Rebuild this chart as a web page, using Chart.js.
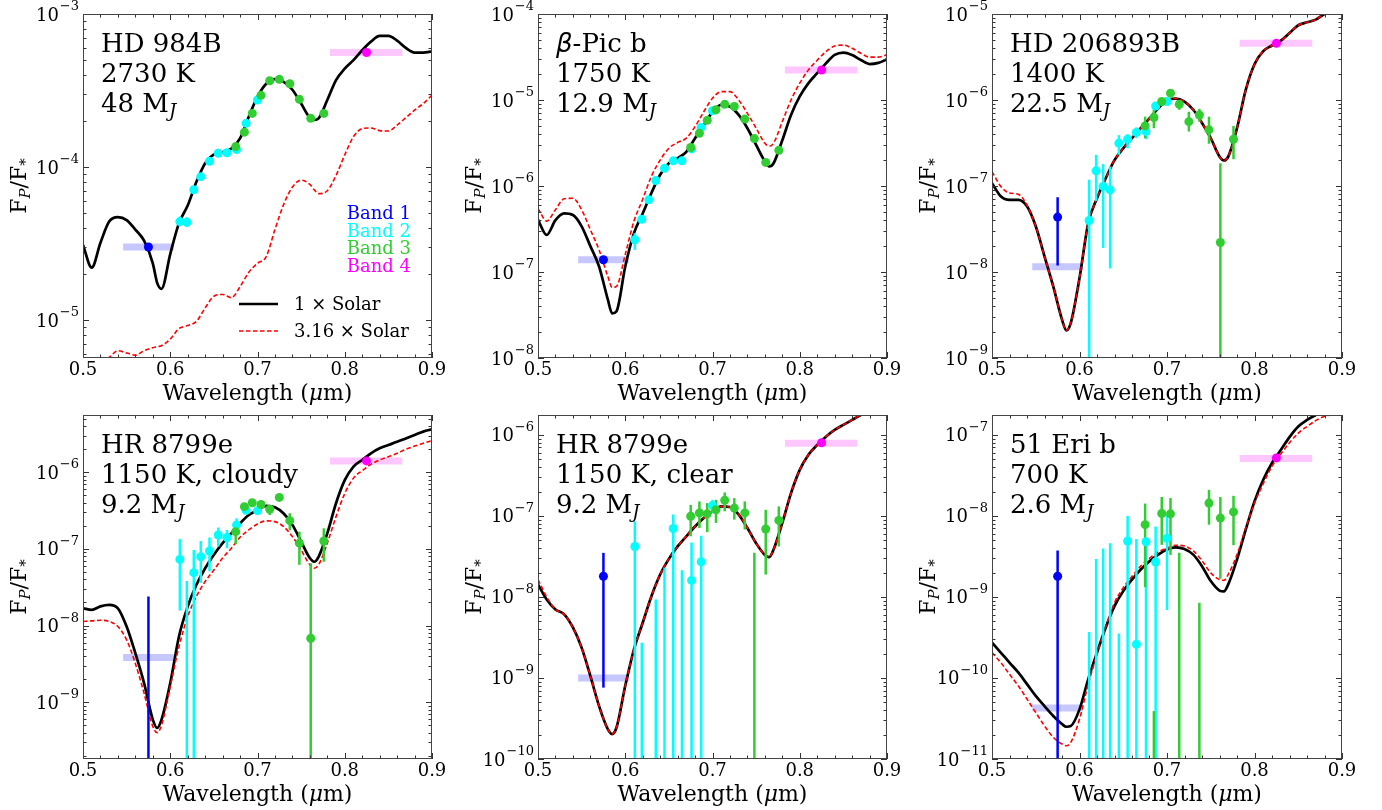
<!DOCTYPE html>
<html>
<head>
<meta charset="utf-8">
<title>Planet/star flux ratio models</title>
<script src="https://cdn.jsdelivr.net/npm/chart.js@4.4.1/dist/chart.umd.min.js"></script>
<style>
  body { margin: 0; background: #fff; }
  #figure { position: relative; width: 1382px; height: 810px; overflow: hidden; background: #fff; }
  #figure canvas { position: absolute; }
</style>
</head>
<body>
<div id="figure"></div>
<script>
// wavelength grid (um) of the model spectra
const modelWl = [0.50, 0.51, 0.52, 0.53, 0.54, 0.55, 0.56, 0.57, 0.58, 0.585, 0.59, 0.60, 0.61, 0.62, 0.63,
  0.64, 0.65, 0.66, 0.67, 0.68, 0.69, 0.70, 0.71, 0.72, 0.73, 0.74, 0.75, 0.76, 0.765, 0.77, 0.78, 0.79,
  0.80, 0.81, 0.82, 0.83, 0.84, 0.85, 0.86, 0.87, 0.88, 0.89, 0.90];

// filter bands
const band1Wl = 0.575;
const band4Wl = 0.825;
const band1Range = [0.546, 0.604];
const band4Range = [0.783, 0.866];
const band2Wl = [0.611, 0.619, 0.627, 0.635, 0.645, 0.655, 0.665, 0.676, 0.687, 0.700];
const band3Wl = [0.675, 0.685, 0.694, 0.704, 0.714, 0.725, 0.737, 0.748, 0.761, 0.776];

// HD 984B
const hd984Solar = [3.1e-5, 2.2e-5, 3.2e-5, 4.4e-5, 4.7e-5, 4.5e-5, 3.9e-5, 3.3e-5, 2.35e-5, 1.75e-5, 1.6e-5,
  2.7e-5, 4.3e-5, 5.6e-5, 8.0e-5, 1.06e-4, 1.21e-4, 1.25e-4, 1.32e-4, 1.54e-4, 2.13e-4, 2.88e-4, 3.5e-4,
  3.75e-4, 3.6e-4, 3.2e-4, 2.6e-4, 2.1e-4, 2.03e-4, 2.08e-4, 2.74e-4, 3.7e-4, 4.4e-4, 5.0e-4, 5.8e-4,
  6.6e-4, 7.2e-4, 7.2e-4, 6.7e-4, 6.0e-4, 5.6e-4, 5.6e-4, 5.7e-4];
const hd984Metal = [4.6e-6, 4.9e-6, 5.2e-6, 5.7e-6, 6.3e-6, 6.1e-6, 5.9e-6, 6.3e-6, 6.6e-6, 6.7e-6, 6.8e-6,
  7.5e-6, 8.8e-6, 9.2e-6, 9.8e-6, 1.2e-5, 1.43e-5, 1.47e-5, 1.4e-5, 1.65e-5, 2.05e-5, 2.35e-5, 2.6e-5,
  3.9e-5, 5.7e-5, 7.4e-5, 8.2e-5, 7.7e-5, 7.1e-5, 6.7e-5, 7.0e-5, 8.8e-5, 1.2e-4, 1.58e-4, 1.78e-4,
  1.8e-4, 1.73e-4, 1.72e-4, 1.88e-4, 2.1e-4, 2.35e-4, 2.6e-4, 2.95e-4];
const hd984Band1 = [3.0e-5, null, null];
const hd984Band2 = [4.4e-5, 4.35e-5, 7.1e-5, 8.65e-5, 1.09e-4, 1.23e-4, 1.24e-4, 1.3e-4, 1.93e-4, 2.74e-4];
const hd984Band2Lo = [4.1e-5, 4.05e-5, null, null, null, null, null, null, null, null];
const hd984Band2Hi = [4.75e-5, 4.7e-5, null, null, null, null, null, null, null, null];
const hd984Band3 = [1.36e-4, 1.69e-4, 2.24e-4, 2.94e-4, 3.66e-4, 3.74e-4, 3.5e-4, 2.77e-4, 2.08e-4, 2.24e-4];
const hd984Band4 = 5.6e-4;
const hd984Levels = [3.0e-5, 5.6e-4];

// beta Pic b
const betaPicSolar = [4.05e-7, 2.7e-7, 4.0e-7, 4.8e-7, 4.6e-7, 3.4e-7, 2.0e-7, 1.16e-7, 4.8e-8, 3.3e-8, 3.5e-8,
  1.16e-7, 2.83e-7, 4.8e-7, 8.3e-7, 1.35e-6, 1.84e-6, 2.1e-6, 2.5e-6, 3.6e-6, 5.1e-6, 7.3e-6, 8.8e-6,
  8.4e-6, 6.7e-6, 4.7e-6, 3.0e-6, 1.93e-6, 1.69e-6, 1.84e-6, 3.4e-6, 6.7e-6, 1.1e-5, 1.57e-5, 2.05e-5,
  2.67e-5, 3.34e-5, 3.56e-5, 3.34e-5, 2.92e-5, 2.62e-5, 2.7e-5, 2.97e-5];
const betaPicMetal = [5.5e-7, 3.9e-7, 5.3e-7, 7.1e-7, 7.2e-7, 5.3e-7, 3.1e-7, 1.81e-7, 8.9e-8, 6.6e-8, 6.8e-8,
  1.6e-7, 3.9e-7, 7.0e-7, 1.3e-6, 2.0e-6, 2.75e-6, 3.2e-6, 3.6e-6, 4.9e-6, 7.3e-6, 1.05e-5, 1.25e-5,
  1.25e-5, 1.0e-5, 7.0e-6, 4.7e-6, 3.15e-6, 2.9e-6, 3.15e-6, 5.6e-6, 1.0e-5, 1.57e-5, 2.24e-5, 2.9e-5,
  3.65e-5, 4.25e-5, 4.35e-5, 4.0e-5, 3.5e-5, 3.15e-5, 3.15e-5, 3.35e-5];
const betaPicBand1 = [1.39e-7, null, null];
const betaPicBand2 = [2.37e-7, 4.1e-7, 6.9e-7, 1.16e-6, 1.61e-6, 1.96e-6, 1.96e-6, 2.7e-6, 4.8e-6, 7.5e-6];
const betaPicBand2Lo = [1.81e-7, 3.7e-7, null, null, null, null, null, null, null, null];
const betaPicBand2Hi = [2.83e-7, 4.6e-7, null, null, null, null, null, null, null, null];
const betaPicBand3 = [2.8e-6, 4.1e-6, 5.8e-6, 7.7e-6, 8.9e-6, 8.4e-6, 6.0e-6, 3.56e-6, 1.88e-6, 2.6e-6];
const betaPicBand4 = 2.23e-5;
const betaPicLevels = [1.39e-7, 2.23e-5];

// HD 206893B
const hd206Solar = [1.08e-7, 7.6e-8, 6.9e-8, 6.9e-8, 5.8e-8, 3.4e-8, 1.52e-8, 6.8e-9, 2.8e-9, 2.1e-9, 2.55e-9,
  8.5e-9, 3.7e-8, 7.2e-8, 1.23e-7, 2.0e-7, 2.75e-7, 3.6e-7, 4.7e-7, 6.1e-7, 8.0e-7, 1.0e-6, 1.04e-6,
  9.6e-7, 7.7e-7, 5.4e-7, 3.6e-7, 2.2e-7, 1.98e-7, 2.2e-7, 4.7e-7, 1.31e-6, 2.6e-6, 3.7e-6, 4.3e-6,
  4.9e-6, 6.0e-6, 7.4e-6, 8.0e-6, 8.6e-6, 1.0e-5, 1.1e-5, 1.2e-5];
const hd206Metal = [1.47e-7, 9.9e-8, 8.3e-8, 8.0e-8, 6.0e-8, 3.4e-8, 1.52e-8, 6.8e-9, 2.8e-9, 2.1e-9, 2.55e-9,
  8.5e-9, 3.7e-8, 7.2e-8, 1.23e-7, 2.0e-7, 2.75e-7, 3.6e-7, 4.7e-7, 6.1e-7, 8.0e-7, 1.0e-6, 1.04e-6,
  9.6e-7, 7.7e-7, 5.4e-7, 3.6e-7, 2.2e-7, 1.98e-7, 2.2e-7, 4.7e-7, 1.31e-6, 2.6e-6, 3.7e-6, 4.3e-6,
  4.9e-6, 6.0e-6, 7.4e-6, 8.0e-6, 8.6e-6, 1.0e-5, 1.1e-5, 1.2e-5];
const hd206Band1 = [4.35e-8, 1.19e-8, 7.4e-8];
const hd206Band2 = [3.97e-8, 1.5e-7, 9.9e-8, 9.0e-8, 3.15e-7, 3.5e-7, 4.2e-7, 4.3e-7, 8.5e-7, 9.6e-7];
const hd206Band2Lo = [1e-13, 6.7e-8, 1.9e-8, 1.1e-8, 2.3e-7, 2.75e-7, 3.6e-7, 3.5e-7, 7.6e-7, 8.8e-7];
const hd206Band2Hi = [1.18e-7, 2.3e-7, 1.8e-7, 1.68e-7, 3.9e-7, 4.0e-7, 4.8e-7, 5.2e-7, 9.4e-7, 1.05e-6];
const hd206Band3 = [5.0e-7, 6.25e-7, 9.6e-7, 1.2e-6, 8.9e-7, 5.6e-7, 6.7e-7, 4.5e-7, 2.2e-8, 3.5e-7];
const hd206Band3Lo = [3.6e-7, 4.7e-7, 8.8e-7, 1.1e-6, 7.7e-7, 4.3e-7, 5.6e-7, 3.1e-7, 1e-13, 2.05e-7];
const hd206Band3Hi = [6.4e-7, 7.7e-7, 1.05e-6, 1.32e-6, 1.0e-6, 7.3e-7, 7.9e-7, 6.4e-7, 1.84e-7, 5.0e-7];
const hd206Band4 = 4.56e-6;
const hd206Levels = [1.15e-8, 4.56e-6];

// HR 8799e, cloudy
const hr8799CloudySolar = [1.68e-8, 1.6e-8, 1.78e-8, 1.86e-8, 1.68e-8, 9.7e-9, 4.35e-9, 1.77e-9, 5.9e-10,
  4.6e-10, 5.9e-10, 1.77e-9, 7.2e-9, 1.77e-8, 3.4e-8, 5.6e-8, 8.4e-8, 1.19e-7, 1.6e-7, 2.16e-7, 2.77e-7,
  3.2e-7, 3.65e-7, 3.5e-7, 2.9e-7, 2.06e-7, 1.25e-7, 7.6e-8, 6.8e-8, 7.9e-8, 1.6e-7, 3.95e-7, 7.9e-7,
  1.19e-6, 1.45e-6, 1.77e-6, 2.06e-6, 2.27e-6, 2.5e-6, 2.77e-6, 3.07e-6, 3.4e-6, 3.64e-6];
const hr8799CloudyMetal = [1.13e-8, 1.15e-8, 1.17e-8, 1.13e-8, 9.7e-9, 6.5e-9, 3.2e-9, 1.31e-9, 4.8e-10,
  4.0e-10, 5.0e-10, 1.6e-9, 5.3e-9, 1.31e-8, 2.4e-8, 3.75e-8, 5.3e-8, 7.6e-8, 1.02e-7, 1.42e-7, 1.77e-7,
  2.12e-7, 2.32e-7, 2.27e-7, 1.95e-7, 1.45e-7, 9.7e-8, 6.2e-8, 5.6e-8, 6.2e-8, 1.19e-7, 2.64e-7, 5.3e-7,
  8.4e-7, 1.05e-6, 1.27e-6, 1.45e-6, 1.6e-6, 1.77e-6, 2.0e-6, 2.2e-6, 2.39e-6, 2.59e-6];
const hr8799CloudyBand1 = [5e-11, 1e-13, 2.39e-8];
const hr8799CloudyBand2 = [7.3e-8, 5e-11, 4.9e-8, 7.9e-8, 9.4e-8, 1.52e-7, 1.41e-7, 2.06e-7, 3.2e-7, 3.16e-7];
const hr8799CloudyBand2Lo = [1.57e-8, 1e-13, 1e-13, 3.6e-8, 5.1e-8, 1.07e-7, 1.02e-7, 1.52e-7, 2.9e-7, 2.9e-7];
const hr8799CloudyBand2Hi = [1.34e-7, 3.8e-8, 9.7e-8, 1.27e-7, 1.41e-7, 1.9e-7, 1.77e-7, 2.51e-7, 3.5e-7, 3.45e-7];
const hr8799CloudyBand3 = [1.68e-7, 3.56e-7, 4.0e-7, 3.8e-7, 3.3e-7, 4.7e-7, 2.34e-7, 1.19e-7, 6.8e-9, 1.27e-7];
const hr8799CloudyBand3Lo = [1.15e-7, 3.2e-7, 3.6e-7, 3.4e-7, 2.77e-7, 4.3e-7, 1.77e-7, 6.2e-8, 1e-13, 6.8e-8];
const hr8799CloudyBand3Hi = [2.27e-7, 3.9e-7, 4.4e-7, 4.2e-7, 3.75e-7, 5.1e-7, 2.92e-7, 1.68e-7, 6.5e-8, 1.86e-7];
const hr8799CloudyBand4 = 1.41e-6;
const hr8799CloudyLevels = [3.83e-9, 1.41e-6];

// HR 8799e, clear
const hr8799ClearSolar = [1.43e-8, 9.3e-9, 7.0e-9, 6.1e-9, 4.2e-9, 2.37e-9, 1.06e-9, 4.5e-10, 2.34e-10,
  2.03e-10, 2.45e-10, 8.0e-10, 2.26e-9, 4.8e-9, 1.02e-8, 1.89e-8, 2.95e-8, 4.2e-8, 5.6e-8, 7.4e-8, 9.4e-8,
  1.14e-7, 1.31e-7, 1.29e-7, 1.04e-7, 7.1e-8, 4.6e-8, 3.3e-8, 3.1e-8, 3.85e-8, 8.2e-8, 1.91e-7, 3.7e-7,
  5.7e-7, 7.5e-7, 9.5e-7, 1.15e-6, 1.33e-6, 1.53e-6, 1.76e-6, 2.0e-6, 2.2e-6, 2.4e-6];
const hr8799ClearMetal = [1.64e-8, 1.0e-8, 7.0e-9, 6.1e-9, 4.2e-9, 2.37e-9, 1.06e-9, 4.5e-10, 2.34e-10,
  2.03e-10, 2.45e-10, 8.0e-10, 2.26e-9, 4.8e-9, 1.02e-8, 1.89e-8, 2.95e-8, 4.2e-8, 5.6e-8, 7.4e-8, 9.4e-8,
  1.14e-7, 1.31e-7, 1.29e-7, 1.04e-7, 7.1e-8, 4.6e-8, 3.3e-8, 3.1e-8, 3.85e-8, 8.2e-8, 1.91e-7, 3.7e-7,
  5.7e-7, 7.5e-7, 9.5e-7, 1.15e-6, 1.33e-6, 1.53e-6, 1.76e-6, 2.0e-6, 2.2e-6, 2.4e-6];
const hr8799ClearBand1 = [1.8e-8, 7.6e-10, 3.5e-8];
const hr8799ClearBand2 = [4.2e-8, 1e-11, null, 1e-11, 1e-11, 7.0e-8, 1e-11, 1.6e-8, 2.71e-8, 1.34e-7];
const hr8799ClearBand2Lo = [1e-13, 1e-13, null, 1e-13, 1e-13, 1e-13, 1e-13, 1e-13, 1e-13, 1.09e-7];
const hr8799ClearBand2Hi = [8.6e-8, 2.73e-9, null, 9.3e-9, 2.29e-8, 1.04e-7, 2.14e-8, 4.7e-8, 5.7e-8, 1.58e-7];
const hr8799ClearBand3 = [9.9e-8, 1.09e-7, 1.06e-7, 1.19e-7, 1.56e-7, 1.25e-7, 1.09e-7, 1e-11, 6.9e-8, 8.8e-8];
const hr8799ClearBand3Lo = [5.6e-8, 7.1e-8, 6.3e-8, 8.2e-8, 1.14e-7, 9.0e-8, 6.8e-8, 1e-13, 1.89e-8, 4.2e-8];
const hr8799ClearBand3Hi = [1.37e-7, 1.51e-7, 1.44e-7, 1.58e-7, 1.95e-7, 1.66e-7, 1.51e-7, 3.5e-8, 1.19e-7, 1.31e-7];
const hr8799ClearBand4 = 8.0e-7;
const hr8799ClearLevels = [1.0e-9, 7.9e-7];

// 51 Eri b
const eriSolar = [2.73e-10, 2.06e-10, 1.55e-10, 1.17e-10, 8.4e-11, 6.0e-11, 4.5e-11, 3.4e-11, 2.7e-11, 2.5e-11,
  2.55e-11, 4.1e-11, 9.7e-11, 2.06e-10, 4.2e-10, 7.7e-10, 1.18e-9, 1.64e-9, 2.18e-9, 2.76e-9, 3.33e-9,
  3.85e-9, 4.1e-9, 3.9e-9, 3.33e-9, 2.4e-9, 1.57e-9, 1.2e-9, 1.17e-9, 1.43e-9, 2.9e-9, 6.8e-9, 1.51e-8,
  2.79e-8, 4.5e-8, 6.5e-8, 9.4e-8, 1.27e-7, 1.53e-7, 1.76e-7, 2.0e-7, 2.2e-7, 2.4e-7];
const eriMetal = [2.06e-10, 1.55e-10, 1.11e-10, 8.0e-11, 5.5e-11, 3.75e-11, 2.57e-11, 1.85e-11, 1.53e-11,
  1.46e-11, 1.6e-11, 3.1e-11, 8.4e-11, 1.96e-10, 4.3e-10, 8.5e-10, 1.3e-9, 1.8e-9, 2.4e-9, 3.0e-9, 3.6e-9,
  4.0e-9, 4.35e-9, 4.25e-9, 3.7e-9, 2.8e-9, 1.98e-9, 1.64e-9, 1.6e-9, 1.9e-9, 3.33e-9, 7.1e-9, 1.44e-8,
  2.5e-8, 4.1e-8, 5.8e-8, 8.0e-8, 1.05e-7, 1.27e-7, 1.5e-7, 1.7e-7, 1.8e-7, 2.0e-7];
const eriBand1 = [1.8e-9, 1e-13, 3.73e-9];
const eriBand2 = [1e-12, 1e-12, 1e-12, 1e-12, 1e-12, 4.9e-9, 2.6e-10, 4.8e-9, 2.7e-9, 5.3e-9];
const eriBand2Lo = [1e-13, 1e-13, 1e-13, 1e-13, 1e-13, 1e-13, 1e-13, 1e-13, 1e-13, 6.9e-10];
const eriBand2Hi = [3.7e-10, 2.95e-9, 3.95e-9, 4.6e-9, 3.55e-10, 1.0e-8, 5.2e-9, 5.3e-9, 7.4e-9, 1.03e-8];
const eriBand3 = [7.8e-9, 1e-12, 1.07e-8, 1.06e-8, 1e-12, null, 1e-12, 1.44e-8, 9.4e-9, 1.12e-8];
const eriBand3Lo = [1.32e-9, 1e-13, 4.4e-9, 3.3e-9, 1e-13, null, 1e-13, 7.8e-9, 1.68e-9, 4.35e-9];
const eriBand3Hi = [1.42e-8, 3.9e-11, 1.71e-8, 1.66e-8, 3.5e-9, null, 8.5e-10, 2.1e-8, 1.71e-8, 1.77e-8];
const eriBand4 = 5.2e-8;
const eriLevels = [4.25e-11, 5.1e-8];

const BLUE = '#0000ff', CYAN = '#00ffff', GREEN = '#32cd32', MAGENTA = '#ff00ff';
const SERIF = '"DejaVu Serif", serif';

const panels = [
  { name: [['HD 984B']], temp: '2730 K', mass: '48', yMin: 5.65e-6, yMax: 1e-3,
    solar: hd984Solar, metal: hd984Metal, band1: hd984Band1, band2: hd984Band2,
    band2Lo: hd984Band2Lo, band2Hi: hd984Band2Hi, band3: hd984Band3, band4: hd984Band4,
    levels: hd984Levels, legend: true },
  { name: [['\u03b2', 'italic 26px "DejaVu Sans"'], ['-Pic b']], temp: '1750 K', mass: '12.9', yMin: 1e-8, yMax: 1e-4,
    solar: betaPicSolar, metal: betaPicMetal, band1: betaPicBand1, band2: betaPicBand2,
    band2Lo: betaPicBand2Lo, band2Hi: betaPicBand2Hi, band3: betaPicBand3, band4: betaPicBand4,
    levels: betaPicLevels },
  { name: [['HD 206893B']], temp: '1400 K', mass: '22.5', yMin: 1e-9, yMax: 1e-5,
    solar: hd206Solar, metal: hd206Metal, band1: hd206Band1, band2: hd206Band2,
    band2Lo: hd206Band2Lo, band2Hi: hd206Band2Hi, band3: hd206Band3, band3Lo: hd206Band3Lo,
    band3Hi: hd206Band3Hi, band4: hd206Band4, levels: hd206Levels },
  { name: [['HR 8799e']], temp: '1150 K, cloudy', mass: '9.2', yMin: 1.81e-10, yMax: 5.6e-6,
    solar: hr8799CloudySolar, metal: hr8799CloudyMetal, band1: hr8799CloudyBand1, band2: hr8799CloudyBand2,
    band2Lo: hr8799CloudyBand2Lo, band2Hi: hr8799CloudyBand2Hi, band3: hr8799CloudyBand3,
    band3Lo: hr8799CloudyBand3Lo, band3Hi: hr8799CloudyBand3Hi, band4: hr8799CloudyBand4,
    levels: hr8799CloudyLevels },
  { name: [['HR 8799e']], temp: '1150 K, clear', mass: '9.2', yMin: 1e-10, yMax: 1.76e-6,
    solar: hr8799ClearSolar, metal: hr8799ClearMetal, band1: hr8799ClearBand1, band2: hr8799ClearBand2,
    band2Lo: hr8799ClearBand2Lo, band2Hi: hr8799ClearBand2Hi, band3: hr8799ClearBand3,
    band3Lo: hr8799ClearBand3Lo, band3Hi: hr8799ClearBand3Hi, band4: hr8799ClearBand4,
    levels: hr8799ClearLevels },
  { name: [['51 Eri b']], temp: '700 K', mass: '2.6', yMin: 1e-11, yMax: 1.76e-7,
    solar: eriSolar, metal: eriMetal, band1: eriBand1, band2: eriBand2, band2Lo: eriBand2Lo,
    band2Hi: eriBand2Hi, band3: eriBand3, band3Lo: eriBand3Lo, band3Hi: eriBand3Hi, band4: eriBand4,
    levels: eriLevels }
];

// figure grid: canvases overlap a little so the axis titles are not cut
const colLeft = [0, 455, 910], colWidth = [455, 455, 472];
const rowTop = [0, 400], rowHeight = 410;
const plotX = [[83, 432], [538, 887], [992, 1342]];
const plotY = [[14, 358], [415, 759]];

function drawRuns(ctx, x, y, runs, align) {
  let w = 0;
  runs.forEach(r => { ctx.font = r[1]; w += ctx.measureText(r[0]).width; });
  let cx = align === 'center' ? x - w / 2 : align === 'right' ? x - w : x;
  runs.forEach(r => {
    ctx.font = r[1];
    ctx.fillText(r[0], cx, y + (r[2] || 0));
    cx += ctx.measureText(r[0]).width;
  });
}

function drawErrorBars(chart, p) {
  const { ctx, chartArea: a, scales: { x, y } } = chart;
  ctx.save();
  ctx.beginPath();
  ctx.rect(a.left, a.top, a.right - a.left, a.bottom - a.top);
  ctx.clip();
  ctx.lineWidth = 2.5;
  const groups = [
    [[band1Wl], [p.band1[1]], [p.band1[2]], BLUE],
    [band2Wl, p.band2Lo, p.band2Hi, CYAN],
    [band3Wl, p.band3Lo, p.band3Hi, GREEN]
  ];
  groups.forEach(([wl, lo, hi, color]) => {
    if (!lo || !hi) return;
    ctx.strokeStyle = color;
    wl.forEach((w, i) => {
      if (lo[i] == null || hi[i] == null) return;
      const px = x.getPixelForValue(w);
      ctx.beginPath();
      ctx.moveTo(px, y.getPixelForValue(lo[i]));
      ctx.lineTo(px, y.getPixelForValue(hi[i]));
      ctx.stroke();
    });
  });
  ctx.restore();
}

function drawAxes(chart) {
  const { ctx, chartArea: a, scales: { x, y } } = chart;
  ctx.save();
  ctx.strokeStyle = '#333';
  ctx.lineWidth = 1;
  const seg = (x1, y1, x2, y2) => { ctx.beginPath(); ctx.moveTo(x1, y1); ctx.lineTo(x2, y2); ctx.stroke(); };

  // inward ticks, x: major 0.1, minor 0.02
  for (let i = 0; i <= 20; i++) {
    const px = Math.round(x.getPixelForValue(0.5 + i * 0.02)) + 0.5;
    const len = i % 5 === 0 ? 6 : 3.5;
    seg(px, a.bottom, px, a.bottom - len);
    seg(px, a.top, px, a.top + len);
  }
  // y: decades and 2..9 minors
  const dLo = Math.floor(Math.log10(y.min)), dHi = Math.ceil(Math.log10(y.max));
  for (let d = dLo; d <= dHi; d++) {
    for (let k = 1; k <= 9; k++) {
      const v = k * Math.pow(10, d);
      if (v < y.min * 0.999 || v > y.max * 1.001) continue;
      const py = Math.round(y.getPixelForValue(v)) + 0.5;
      const len = k === 1 ? 6 : 3.5;
      seg(a.left, py, a.left + len, py);
      seg(a.right, py, a.right - len, py);
    }
  }
  ctx.strokeStyle = '#444';
  ctx.strokeRect(a.left + 0.5, a.top + 0.5, a.right - a.left - 1, a.bottom - a.top - 1);

  // tick labels
  ctx.fillStyle = '#000';
  ctx.textBaseline = 'alphabetic';
  ctx.textAlign = 'left';
  [0.5, 0.6, 0.7, 0.8, 0.9].forEach(v => {
    drawRuns(ctx, x.getPixelForValue(v), a.bottom + 17, [[v.toFixed(1), '18px ' + SERIF]], 'center');
  });
  for (let d = dLo; d <= dHi; d++) {
    const v = Math.pow(10, d);
    if (v < y.min * 0.999 || v > y.max * 1.001) continue;
    const py = y.getPixelForValue(v);
    ctx.font = '13px ' + SERIF;
    const exp = '\u2212' + Math.abs(d);
    const ew = ctx.measureText(exp).width;
    ctx.fillText(exp, a.left - 4 - ew, py - 4);
    drawRuns(ctx, a.left - 5 - ew, py + 6.5, [['10', '18px ' + SERIF]], 'right');
  }

  // axis titles
  drawRuns(ctx, (a.left + a.right) / 2, a.bottom + 42,
    [['Wavelength (', '22px ' + SERIF], ['\u03bc', 'italic 22px ' + SERIF], ['m)', '22px ' + SERIF]], 'center');
  ctx.save();
  ctx.translate(a.left - 57, (a.top + a.bottom) / 2);
  ctx.rotate(-Math.PI / 2);
  drawRuns(ctx, 0, 0, [['F', '22px ' + SERIF], ['P', 'italic 15px ' + SERIF, 4],
    ['/F', '22px ' + SERIF], ['*', '15px ' + SERIF, 4]], 'center');
  ctx.restore();
  ctx.restore();
}

function drawLabels(chart, p) {
  const { ctx, chartArea: a } = chart;
  const big = '26px ' + SERIF;
  ctx.save();
  ctx.fillStyle = '#000';
  ctx.textBaseline = 'alphabetic';
  ctx.textAlign = 'left';
  const x0 = a.left + 18;
  drawRuns(ctx, x0, a.top + 38, p.name.map(r => [r[0], r[1] || big]));
  drawRuns(ctx, x0, a.top + 68, [[p.temp, big]]);
  drawRuns(ctx, x0, a.top + 98, [[p.mass + ' M', big], ['J', 'italic 18px ' + SERIF, 5]]);

  if (p.legend) {
    const font = '18px ' + SERIF;
    [['Band 1', BLUE], ['Band 2', CYAN], ['Band 3', GREEN], ['Band 4', MAGENTA]].forEach(([t, c], i) => {
      ctx.fillStyle = c;
      drawRuns(ctx, a.right - 21, a.top + 205 + i * 17.5, [[t, font]], 'right');
    });
    ctx.lineWidth = 2.7;
    ctx.strokeStyle = '#000';
    ctx.beginPath();
    ctx.moveTo(a.left + 156, a.top + 290);
    ctx.lineTo(a.left + 195, a.top + 290);
    ctx.stroke();
    ctx.lineWidth = 1.6;
    ctx.strokeStyle = '#ff0000';
    ctx.setLineDash([4.5, 2.5]);
    ctx.beginPath();
    ctx.moveTo(a.left + 156, a.top + 317);
    ctx.lineTo(a.left + 195, a.top + 317);
    ctx.stroke();
    ctx.setLineDash([]);
    ctx.fillStyle = '#000';
    drawRuns(ctx, a.left + 211, a.top + 296, [['1 \u00d7 Solar', font]]);
    drawRuns(ctx, a.left + 211, a.top + 323, [['3.16 \u00d7 Solar', font]]);
  }
  ctx.restore();
}

const points = (wl, vals, color) => ({
  data: wl.map((w, i) => ({ x: w, y: vals[i] })),
  showLine: false,
  pointRadius: 4.5,
  pointBackgroundColor: color,
  pointBorderColor: color,
  pointBorderWidth: 0
});

const bandBar = (range, level, color) => ({
  data: [{ x: range[0], y: level }, { x: range[1], y: level }],
  borderColor: color,
  borderWidth: 7,
  borderCapStyle: 'butt',
  pointRadius: 0,
  clip: 0
});

const model = (vals, color, width, dash) => ({
  data: modelWl.map((w, i) => ({ x: w, y: vals[i] })),
  borderColor: color,
  borderWidth: width,
  borderDash: dash,
  cubicInterpolationMode: 'monotone',
  pointRadius: 0,
  clip: 0
});

const fig = document.getElementById('figure');
panels.forEach((p, i) => {
  const col = i % 3, row = Math.floor(i / 3);
  const canvas = document.createElement('canvas');
  canvas.width = colWidth[col];
  canvas.height = rowHeight;
  canvas.style.left = colLeft[col] + 'px';
  canvas.style.top = rowTop[row] + 'px';
  fig.appendChild(canvas);

  // first dataset is drawn on top
  const datasets = [
    points([band4Wl], [p.band4], MAGENTA),
    points(band3Wl, p.band3, GREEN),
    points(band2Wl, p.band2, CYAN),
    points([band1Wl], [p.band1[0]], BLUE),
    model(p.metal, '#ff0000', 1.6, [4.5, 2.5]),
    model(p.solar, '#000000', 2.7, []),
    bandBar(band1Range, p.levels[0], 'rgba(0, 0, 255, 0.22)'),
    bandBar(band4Range, p.levels[1], 'rgba(255, 0, 255, 0.22)')
  ];

  new Chart(canvas, {
    type: 'line',
    data: { datasets },
    options: {
      responsive: false,
      animation: false,
      events: [],
      layout: {
        padding: {
          left: plotX[col][0] - colLeft[col],
          right: colLeft[col] + colWidth[col] - plotX[col][1],
          top: plotY[row][0] - rowTop[row],
          bottom: rowTop[row] + rowHeight - plotY[row][1]
        }
      },
      plugins: { legend: { display: false }, tooltip: { enabled: false } },
      scales: {
        x: { type: 'linear', min: 0.5, max: 0.9, display: false },
        y: { type: 'logarithmic', min: p.yMin, max: p.yMax, display: false }
      }
    },
    plugins: [{
      id: 'panelDecor' + i,
      beforeDatasetDraw(chart, args) {
        if (args.index === 3) drawErrorBars(chart, p);
      },
      afterDraw(chart) {
        drawAxes(chart);
        drawLabels(chart, p);
      }
    }]
  });
});
</script>
</body>
</html>
